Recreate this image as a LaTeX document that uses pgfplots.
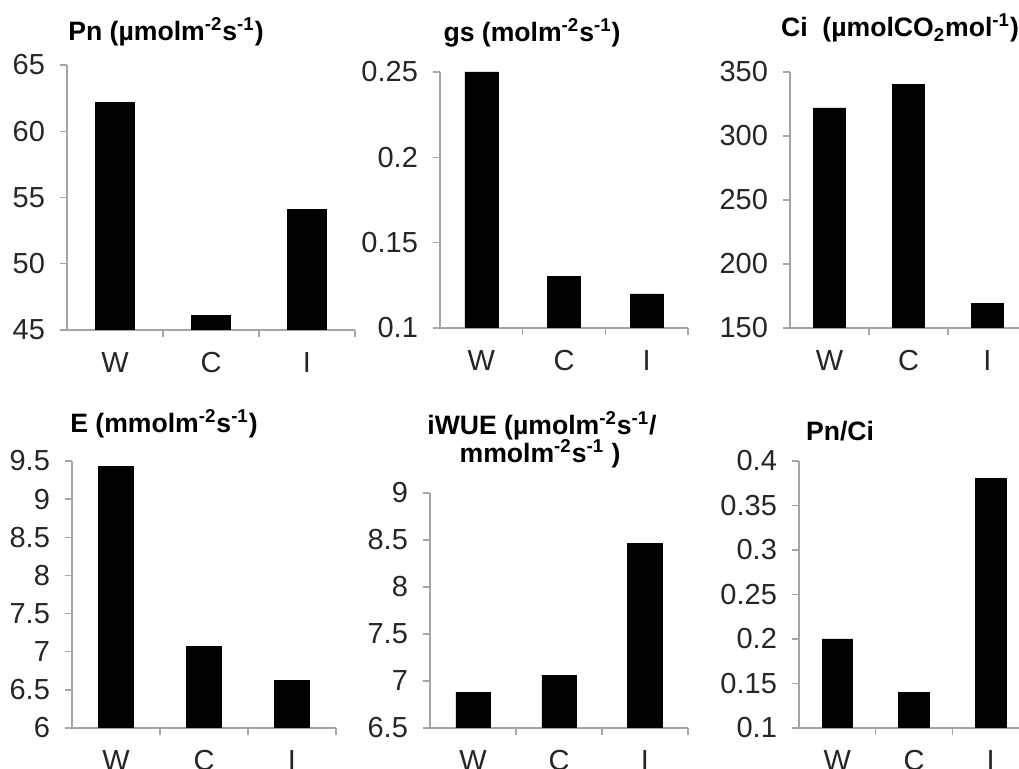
\documentclass[border=0pt]{standalone}
\usepackage{fontspec}
\setmainfont{Liberation Sans}
\usepackage{pgfplots}
\pgfplotsset{compat=1.18}
\definecolor{axgray}{RGB}{165,165,165}
\pgfplotsset{
  panel/.style={
    scale only axis, anchor=south west,
    axis lines*=left,
    axis line style={draw=axgray, line width=0.7pt},
    xmin=-0.5, xmax=2.5,
    xtick={0,1,2}, xticklabels={W,C,I},
    major x tick style={draw=none},
    minor xtick={0.5,1.5,2.5},
    minor x tick style={draw=axgray, line width=0.7pt},
    ytick style={draw=axgray, line width=0.7pt},
    tick align=outside,
    major tick length=3.5pt, minor tick length=3.5pt,
    ybar, bar width=0.4,
    scaled y ticks=false,
    yticklabel style={font=\fontsize{14.5}{16}\selectfont, /pgf/number format/fixed, /pgf/number format/assume math mode=true, text=black!85, xshift=-4pt},
    xticklabel style={font=\fontsize{14.5}{16}\selectfont, text=black!85, yshift=-4pt},
  },
  bk/.style={fill=black, draw=black, line width=0.3pt},
}
\newcommand{\ttl}{\fontsize{13.3}{15}\selectfont\bfseries}
\begin{document}
\begin{tikzpicture}
\useasboundingbox (0,0) rectangle (509.5pt,384.5pt);
\clip (0,0) rectangle (509.5pt,384.5pt);
% Panel 1: Pn
\begin{axis}[panel, at={(33.5pt,219.5pt)}, width=144pt, height=132.5pt,
  ymin=45, ymax=65, ytick={45,50,55,60,65}]
\addplot[bk] coordinates {(0,62.2) (1,46.1) (2,54.1)};
\end{axis}
% Panel 2: gs
\begin{axis}[panel, at={(220pt,220.5pt)}, width=124pt, height=128pt,
  ymin=0.1, ymax=0.25, ytick={0.1,0.15,0.2,0.25}]
\addplot[bk] coordinates {(0,0.25) (1,0.13) (2,0.12)};
\end{axis}
% Panel 3: Ci
\begin{axis}[panel, at={(395pt,220.5pt)}, width=118.5pt, height=128pt,
  ymin=150, ymax=350, ytick={150,200,250,300,350}]
\addplot[bk] coordinates {(0,322) (1,340) (2,169)};
\end{axis}
% Panel 4: E
\begin{axis}[panel, at={(36pt,20.5pt)}, width=132pt, height=133.5pt,
  ymin=6, ymax=9.5, ytick={6,6.5,7,7.5,8,8.5,9,9.5}]
\addplot[bk] coordinates {(0,9.43) (1,7.07) (2,6.62)};
\end{axis}
% Panel 5: iWUE
\begin{axis}[panel, at={(215pt,20.5pt)}, width=129pt, height=117.5pt,
  ymin=6.5, ymax=9, ytick={6.5,7,7.5,8,8.5,9}]
\addplot[bk] coordinates {(0,6.88) (1,7.06) (2,8.46)};
\end{axis}
% Panel 6: Pn/Ci
\begin{axis}[panel, at={(399.5pt,20.5pt)}, width=115pt, height=133.5pt,
  ymin=0.1, ymax=0.4, ytick={0.1,0.15,0.2,0.25,0.3,0.35,0.4}]
\addplot[bk] coordinates {(0,0.20) (1,0.14) (2,0.38)};
\end{axis}
% Titles
\node[anchor=base] at (83pt,364pt) {\ttl Pn (µmolm\textsuperscript{-2}s\textsuperscript{-1})};
\node[anchor=base] at (266pt,363.5pt) {\ttl gs (molm\textsuperscript{-2}s\textsuperscript{-1})};
\node[anchor=base] at (450pt,366pt) {\ttl Ci\ \ (µmolCO\textsubscript{2}mol\textsuperscript{-1})};
\node[anchor=base] at (82pt,168pt) {\ttl E (mmolm\textsuperscript{-2}s\textsuperscript{-1})};
\node[anchor=base, inner ysep=1pt] at (271pt,167pt) {\ttl iWUE (µmolm\textsuperscript{-2}s\textsuperscript{-1}/};
\node[anchor=base, inner ysep=1pt] at (270pt,153pt) {\ttl mmolm\textsuperscript{-2}s\textsuperscript{-1} )};
\node[anchor=base] at (420pt,164pt) {\ttl Pn/Ci};
\end{tikzpicture}
\end{document}
